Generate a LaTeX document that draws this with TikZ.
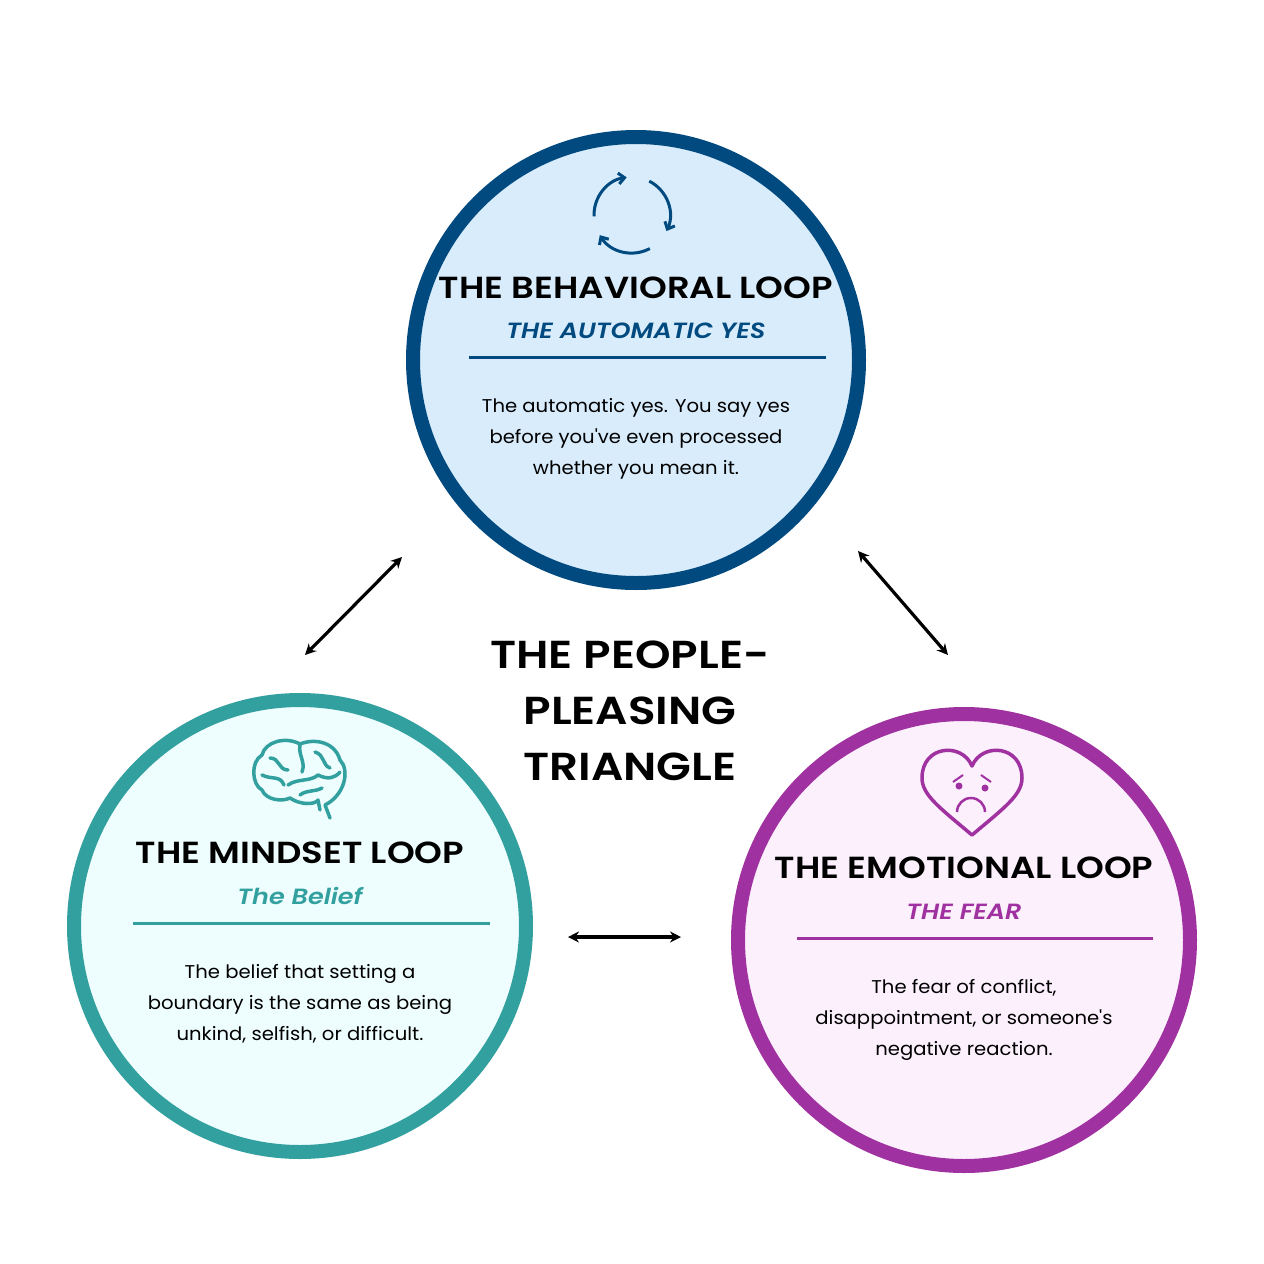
\documentclass[tikz,border=0pt]{standalone}
\usepackage{fontspec}
\setmainfont{Poppins}
\newfontfamily\pmed[FakeStretch=1.16]{Poppins SemiBold}
\newfontfamily\pmedit[FakeStretch=1.16]{Poppins SemiBold Italic}
\newfontfamily\pbody[FakeStretch=1.06]{Poppins}
\usetikzlibrary{arrows.meta}
\definecolor{bblue}{HTML}{004A80}\definecolor{bfill}{HTML}{D8ECFB}
\definecolor{tteal}{HTML}{33A0A0}\definecolor{tfill}{HTML}{EEFDFD}
\definecolor{ppur}{HTML}{A031A0}\definecolor{pfill}{HTML}{FCF0FC}
\begin{document}
\begin{tikzpicture}[x=1pt,y=-1pt,
 ttl/.style={font=\pmed\fontsize{30.5}{30}\selectfont,text=black},
 sub/.style={font=\pmedit\fontsize{22}{24}\selectfont},
 body/.style={font=\pbody\fontsize{18.5}{31}\selectfont,align=center,text=black},
 arr/.style={line width=3.2pt,{Stealth[length=11pt,width=11pt]}-{Stealth[length=11pt,width=11pt]}}]
\useasboundingbox (0,0) rectangle (1264,1264);
\fill[white] (0,0) rectangle (1264,1264);
% circles
\draw[bblue,fill=bfill,line width=14pt] (636,360) circle (223);
\draw[tteal,fill=tfill,line width=14pt] (300,926) circle (226);
\draw[ppur,fill=pfill,line width=14pt] (964,940) circle (226);
% top
\node[ttl] (t1) at (636,288) {THE BEHAVIORAL LOOP};
\node[sub,text=bblue] (s1) at (636,331) {THE AUTOMATIC YES};
\draw[bblue,line width=3pt] (469,357) -- (826,357);
\node[body] (b1) at (636,439) {The automatic yes. You say yes\\before you've even processed\\whether you mean it.};
% left
\node[ttl] (t2) at (300,853) {THE MINDSET LOOP};
\node[sub,text=tteal] (s2) at (300,896) {The Belief};
\draw[tteal,line width=3pt] (133,923) -- (490,923);
\node[body] (b2) at (300,1004) {The belief that setting a\\boundary is the same as being\\unkind, selfish, or difficult.};
% right
\node[ttl] (t3) at (964,868) {THE EMOTIONAL LOOP};
\node[sub,text=ppur] (s3) at (964,912) {THE FEAR};
\draw[ppur,line width=3pt] (797,938) -- (1153,938);
\node[body] (b3) at (964,1020) {The fear of conflict,\\disappointment, or someone's\\negative reaction.};
% center
\node[font=\pmed\fontsize{39}{56}\selectfont,align=center] (c) at (630,711) {THE PEOPLE-\\PLEASING\\TRIANGLE};
% arrows
\coordinate (a1) at (305,655);\coordinate (a2) at (402,557);
\coordinate (a3) at (858,551);\coordinate (a4) at (948,655);
\coordinate (a5) at (568,937);\coordinate (a6) at (681,937);
\draw[arr] (a1) -- (a2);\draw[arr] (a3) -- (a4);\draw[arr] (a5) -- (a6);
% cycle icon
\begin{scope}[bblue,line width=3pt,-{Straight Barb[length=6pt,width=11pt]}]
\draw (632,215) ++(178:38) arc[start angle=178,end angle=262,radius=38];
\draw (632,215) ++(297:38) arc[start angle=297,end angle=385,radius=38];
\draw (632,215) ++(62:38) arc[start angle=62,end angle=148,radius=38];
\end{scope}
% heart
\draw[ppur,line width=3.5pt,line join=round] (972,835) .. controls (940,808) and (922,795) .. (922,778)
 .. controls (922,745) and (962,742) .. (972,766) .. controls (982,742) and (1022,745) .. (1022,778)
 .. controls (1022,795) and (1004,808) .. (972,835) -- cycle;
\fill[ppur] (959,786) circle (3.5) (985,788) circle (3.5);
\draw[ppur,line width=2pt] (953,782) .. controls (958,778) .. (963,775) (981,775) .. controls (986,778) .. (991,782);
\draw[ppur,line width=2.5pt] (957,812) arc[start angle=180,end angle=360,radius=14];
% brain
\begin{scope}[tteal,line width=3.5pt,line cap=round,line join=round]
\draw (330,818) -- (325,805) .. controls (345,795) and (350,770) .. (340,760)
 .. controls (335,742) and (315,738) .. (300,744) .. controls (285,736) and (265,742) .. (262,755)
 .. controls (250,762) and (252,785) .. (262,790) .. controls (266,800) and (282,802) .. (290,798)
 .. controls (300,805) and (315,805) .. (318,800) -- (320,810);
\draw (270,758) .. controls (280,758) and (278,770) .. (288,770);
\draw (262,775) .. controls (272,780) and (280,775) .. (284,785);
\draw (300,745) .. controls (298,755) and (306,762) .. (302,772);
\draw (288,785) .. controls (298,778) and (310,782) .. (318,775);
\draw (315,752) .. controls (325,755) and (322,765) .. (330,768);
\draw (300,795) .. controls (306,790) and (315,792) .. (322,788);
\draw (318,775) .. controls (328,780) and (335,778) .. (340,772);
\end{scope}
\end{tikzpicture}
\end{document}
